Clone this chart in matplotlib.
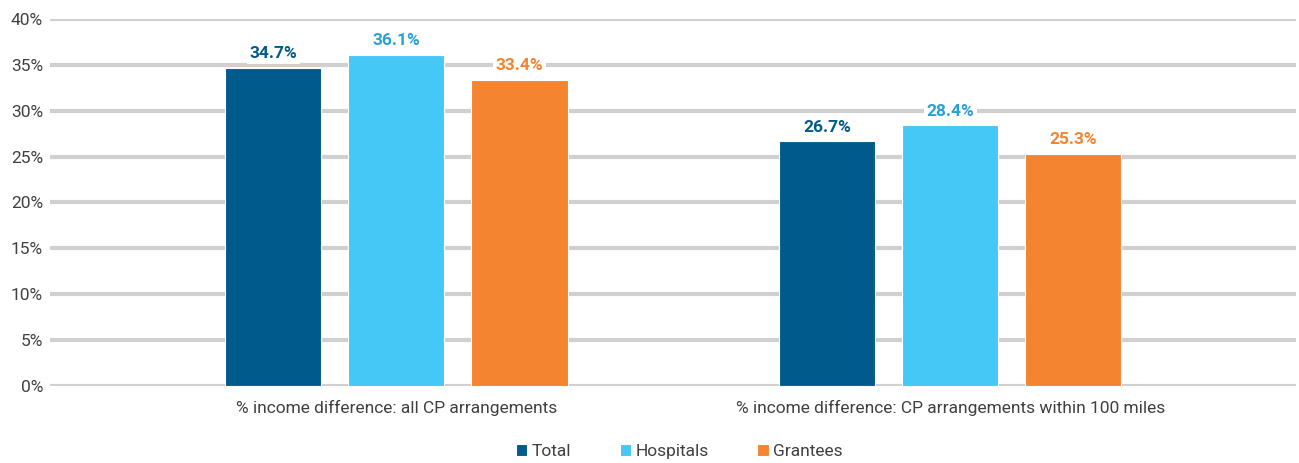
import matplotlib
matplotlib.use("Agg")
import matplotlib.pyplot as plt
import numpy as np

categories = ["% income difference: all CP arrangements",
              "% income difference: CP arrangements within 100 miles"]
series = ["Total", "Hospitals", "Grantees"]
total = [34.7, 26.7]
hospitals = [36.1, 28.4]
grantees = [33.4, 25.3]

values = [total, hospitals, grantees]
bar_colors = ["#005A8C", "#45C8F5", "#F58431"]
label_colors = ["#005A8C", "#2A9FD8", "#F58431"]

plt.rcParams["font.family"] = ["Roboto", "DejaVu Sans"]

fig = plt.figure(figsize=(12.99, 4.63), dpi=100)
ax = fig.add_axes([0.0385, 0.1663, 0.9595, 0.7927])

x = np.arange(len(categories))
offset = 0.2224
width = 0.1736

for i, (name, vals) in enumerate(zip(series, values)):
    pos = x + (i - 1) * offset
    ax.bar(pos, vals, width, color=bar_colors[i], edgecolor="white",
           linewidth=0.8, label=name, zorder=3)
    for px, v in zip(pos, vals):
        ax.text(px, v + 0.7, f"{v:.1f}%", ha="center", va="bottom",
                fontsize=12.5, fontweight="bold", color=label_colors[i], zorder=4,
                bbox=dict(boxstyle="square,pad=0.15", fc="white", ec="none"))

ax.set_xlim(-0.625, 1.625)
ax.set_ylim(0, 40)
ax.set_yticks(np.arange(0, 41, 5))
ax.set_yticklabels([f"{t}%" for t in range(0, 41, 5)])
ax.set_xticks(x)
ax.set_xticklabels(categories)
ax.yaxis.grid(True, color="#D0D0D0", linewidth=3, zorder=0)
ax.set_axisbelow(True)
for s in ax.spines.values():
    s.set_visible(False)
ax.tick_params(axis="both", length=0, labelsize=12.5, labelcolor="#404040")
ax.tick_params(axis="x", pad=10)
ax.tick_params(axis="y", pad=5)

handles, labels = ax.get_legend_handles_labels()
leg = fig.legend(handles, labels, loc="center", bbox_to_anchor=(0.523, 0.024),
                 ncol=3, frameon=False, fontsize=12.5, handlelength=0.65,
                 handleheight=0.65, handletextpad=0.25, columnspacing=2.8,
                 borderpad=0)
for t in leg.get_texts():
    t.set_color("#404040")

fig.savefig("out.png", dpi=100)
